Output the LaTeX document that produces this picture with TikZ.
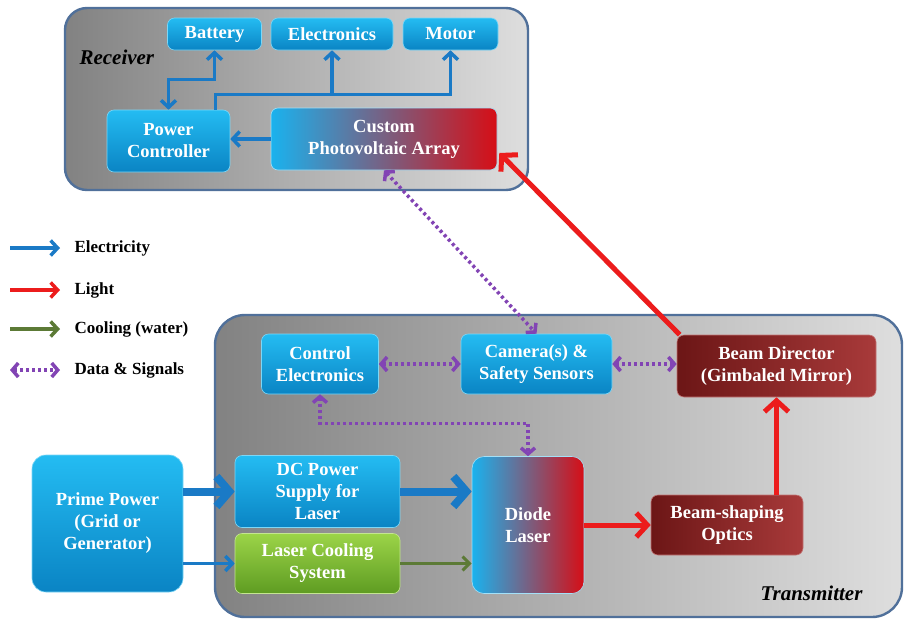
\documentclass[tikz,border=0pt]{standalone}
\usepackage{fontspec}
\setmainfont{Liberation Serif}
\usetikzlibrary{arrows.meta,calc}

\definecolor{elecblue}{HTML}{1A7AC6}
\definecolor{lightred}{HTML}{EC1C1C}
\definecolor{coolgreen}{HTML}{5C7A36}
\definecolor{datapurple}{HTML}{8244B4}
\definecolor{frameline}{HTML}{50709A}
\definecolor{framedark}{HTML}{828282}
\definecolor{framelight}{HTML}{DEDEDE}
\definecolor{bluetop}{HTML}{24BCF2}
\definecolor{bluebot}{HTML}{0A84C4}
\definecolor{redleft}{HTML}{6C1616}
\definecolor{redright}{HTML}{A83A3A}
\definecolor{greentop}{HTML}{9CD448}
\definecolor{greenbot}{HTML}{5E9C22}
\definecolor{pvblue}{HTML}{1AB2EE}
\definecolor{pvmid}{HTML}{5A6AB0}
\definecolor{pvred}{HTML}{D60E16}

\begin{document}
\begin{tikzpicture}[x=1pt,y=-1pt,
  boxtext/.style={text=white, font=\fontsize{18.5}{22}\selectfont\bfseries, align=center, inner sep=2pt},
  bluebox/.style={boxtext, rounded corners=7pt, top color=bluetop, bottom color=bluebot, draw=bluetop!60!white, line width=0.6pt},
  redbox/.style={boxtext, rounded corners=7pt, left color=redleft, right color=redright, draw=redright!70!white, line width=0.6pt},
  greenbox/.style={boxtext, rounded corners=7pt, top color=greentop, bottom color=greenbot, draw=greentop!60!white, line width=0.6pt},
  mixbox/.style={boxtext, rounded corners=7pt, left color=pvblue, middle color=pvmid, right color=pvred, draw=pvblue!40!white, line width=0.6pt},
  frame/.style={draw=frameline, line width=2.4pt, left color=framedark, right color=framelight},
  frametitle/.style={font=\fontsize{21}{24}\selectfont\bfseries\itshape, text=black},
  legendtext/.style={font=\fontsize{17}{20}\selectfont\bfseries, text=black, anchor=west},
  elec/.style={draw=elecblue, line width=3.5pt, -{Straight Barb[length=7pt,width=15pt]}},
  elecboth/.style={draw=elecblue, line width=3.5pt, {Straight Barb[length=7pt,width=15pt]}-{Straight Barb[length=7pt,width=15pt]}},
  elecbig/.style={draw=elecblue, line width=8pt, -{Straight Barb[length=13pt,width=30pt]}},
  light/.style={draw=lightred, line width=5pt, -{Straight Barb[length=11pt,width=24pt]}},
  cool/.style={draw=coolgreen, line width=3pt, -{Straight Barb[length=7pt,width=14pt]}},
  data/.style={draw=datapurple, line width=3.5pt, dash pattern=on 3pt off 3pt,
    {Straight Barb[length=6pt,width=14pt]}-{Straight Barb[length=6pt,width=14pt]}}
]
\useasboundingbox (0,0) rectangle (905,619);
\fill[white] (0,0) rectangle (905,619);

% ---------- containers ----------
\path[frame, rounded corners=22pt] (65,8) rectangle (528,190);
\path[frame, rounded corners=30pt] (215,315) rectangle (902,617);
\node[frametitle, anchor=west] (rxlabel) at (76,57) {Receiver};
\node[frametitle, anchor=east] (txlabel) at (866,593) {Transmitter};

% ---------- receiver ----------
\node[bluebox, minimum width=94pt, minimum height=32pt] (bat) at (214.5,34) {Battery};
\node[bluebox, minimum width=122pt, minimum height=32pt] (elx) at (332,34) {Electronics};
\node[bluebox, minimum width=95pt, minimum height=32pt] (mot) at (450.5,34) {Motor};
\node[bluebox, minimum width=123pt, minimum height=62pt] (pc) at (168.5,141) {Power\\Controller};
\node[mixbox, minimum width=226pt, minimum height=62pt] (pv) at (384,139) {Custom\\Photovoltaic Array};

\draw[elec] (pv.west) -- (pc.east |- pv.west);
\draw[elecboth] (pc.north) -- ++(0,-30) -| (bat.south);
\coordinate (pcout) at ($(pc.north east)+(-15,0)$);
\draw[elec] (pcout) -- ++(0,-15) coordinate (bus) -| (mot.south);
\draw[elec] (bus -| elx.south) -- (elx.south);

% ---------- legend ----------
\coordinate (lg1a) at (10,248); \coordinate (lg1b) at (60,248);
\coordinate (lg2a) at (10,290); \coordinate (lg2b) at (60,290);
\coordinate (lg3a) at (10,329); \coordinate (lg3b) at (60,329);
\coordinate (lg4a) at (10,370); \coordinate (lg4b) at (60,370);
\draw[elec] (lg1a) -- (lg1b);
\draw[light, line width=3.5pt, -{Straight Barb[length=7pt,width=15pt]}] (lg2a) -- (lg2b);
\draw[cool, line width=3.5pt, -{Straight Barb[length=7pt,width=15pt]}] (lg3a) -- (lg3b);
\draw[data] (lg4a) -- (lg4b);
\node[legendtext] (lgt1) at (71,248) {Electricity};
\node[legendtext] (lgt2) at (71,290) {Light};
\node[legendtext] (lgt3) at (71,329) {Cooling (water)};
\node[legendtext] (lgt4) at (71,370) {Data \& Signals};

% ---------- transmitter ----------
\node[bluebox, minimum width=117pt, minimum height=60pt] (ctrl) at (320,364) {Control\\Electronics};
\node[bluebox, minimum width=151pt, minimum height=60pt] (cam) at (536.5,364) {Camera(s) \&\\Safety Sensors};
\node[redbox, minimum width=199pt, minimum height=62pt] (bdir) at (776.5,366) {Beam Director\\(Gimbaled Mirror)};
\node[bluebox, minimum width=151pt, minimum height=137pt, rounded corners=14pt] (prime) at (107.5,523.5) {Prime Power\\(Grid or\\Generator)};
\node[bluebox, minimum width=165pt, minimum height=72pt] (dc) at (317.5,491.5) {DC Power\\Supply for\\Laser};
\node[greenbox, minimum width=165pt, minimum height=60pt] (coolsys) at (317.5,563.5) {Laser Cooling\\System};
\node[mixbox, minimum width=112pt, minimum height=137pt, rounded corners=12pt] (diode) at (528,525) {Diode\\Laser};
\node[redbox, minimum width=152pt, minimum height=60pt] (bso) at (727,525) {Beam-shaping\\Optics};

% power and cooling
\draw[elecbig] (prime.east |- dc.west) -- (dc.west);
\draw[elec] (prime.east |- coolsys.west) -- (coolsys.west);
\draw[elecbig] (dc.east) -- (dc.east -| diode.west);
\draw[cool] (coolsys.east) -- (coolsys.east -| diode.west);

% light path
\draw[light] (diode.east |- bso.west) -- (bso.west);
\draw[light] (bdir.south |- bso.north) -- (bdir.south);
\draw[light] ($(bdir.north west)+(3,0)$) -- ($(pv.east)+(2,14)$);

% data and signals
\draw[data] (ctrl.east) -- (cam.west);
\draw[data] (cam.east) -- (cam.east -| bdir.west);
\draw[data] (pv.south) -- (cam.north);
\draw[data] (ctrl.south) -- ++(0,29) -| (diode.north);
\end{tikzpicture}
\end{document}
